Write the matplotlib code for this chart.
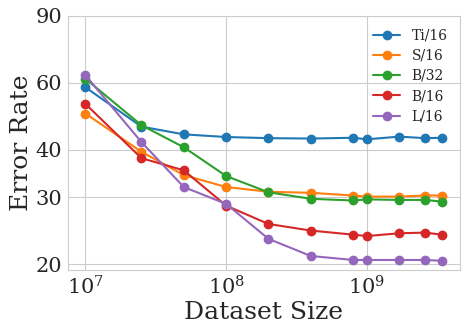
import matplotlib
matplotlib.use("Agg")
import matplotlib.pyplot as plt
import matplotlib.ticker as mticker
import seaborn as sns


DATASET_SIZES = [1e7, 2.5e7, 5e7, 1e8, 2e8, 4e8, 8e8, 1e9, 1.7e9, 2.6e9, 3.4e9]

MODELS = ["Ti/16", "S/16", "B/32", "B/16", "L/16"]

ERROR_TI16 = [58.4, 46.0, 43.9, 43.2, 42.9, 42.8, 43.0, 42.6, 43.3, 42.9, 43.0]
ERROR_S16 = [49.8, 39.5, 34.3, 31.9, 31.0, 30.8, 30.3, 30.1, 30.1, 30.3, 30.3]
ERROR_B32 = [61.5, 46.4, 40.6, 34.1, 30.9, 29.7, 29.4, 29.6, 29.5, 29.5, 29.2]
ERROR_B16 = [52.8, 38.0, 35.3, 28.5, 25.5, 24.5, 23.9, 23.7, 24.1, 24.2, 23.9]
ERROR_L16 = [62.8, 41.9, 31.9, 28.8, 23.3, 21.0, 20.5, 20.5, 20.5, 20.5, 20.4]

Y_TICKS = [20, 30, 40, 60, 90]

COLORS = ["#1f77b4", "#ff7f0e", "#2ca02c", "#d62728", "#9467bd"]


def main():
    sns.set_style("whitegrid")
    plt.rcParams["font.family"] = ["DejaVu Serif"]

    fig = plt.figure(figsize=(4.68, 3.32), dpi=100)
    ax = fig.add_axes([0.145, 0.187, 0.838, 0.765])

    series = [ERROR_TI16, ERROR_S16, ERROR_B32, ERROR_B16, ERROR_L16]
    for name, values, color in zip(MODELS, series, COLORS):
        ax.plot(DATASET_SIZES, values, marker="o", markersize=6,
                linewidth=1.5, color=color, label=name)

    ax.set_xscale("log")
    ax.set_yscale("log")
    ax.set_xlim(7.5e6, 4.6e9)
    ax.set_ylim(19.3, 90)

    ax.yaxis.set_major_locator(mticker.FixedLocator(Y_TICKS))
    ax.yaxis.set_major_formatter(mticker.FixedFormatter([str(t) for t in Y_TICKS]))
    ax.yaxis.set_minor_locator(mticker.NullLocator())
    ax.xaxis.set_major_locator(mticker.LogLocator(base=10, numticks=10))
    ax.xaxis.set_minor_locator(mticker.NullLocator())

    ax.tick_params(axis="both", labelsize=15, length=0, pad=4)
    ax.set_xlabel("Dataset Size", fontsize=18, labelpad=2)
    ax.set_ylabel("Error Rate", fontsize=18, labelpad=2)

    ax.legend(loc="upper right", frameon=False, fontsize=10,
              handlelength=2, labelspacing=0.45)

    fig.savefig("out.png", dpi=100)


if __name__ == "__main__":
    main()
